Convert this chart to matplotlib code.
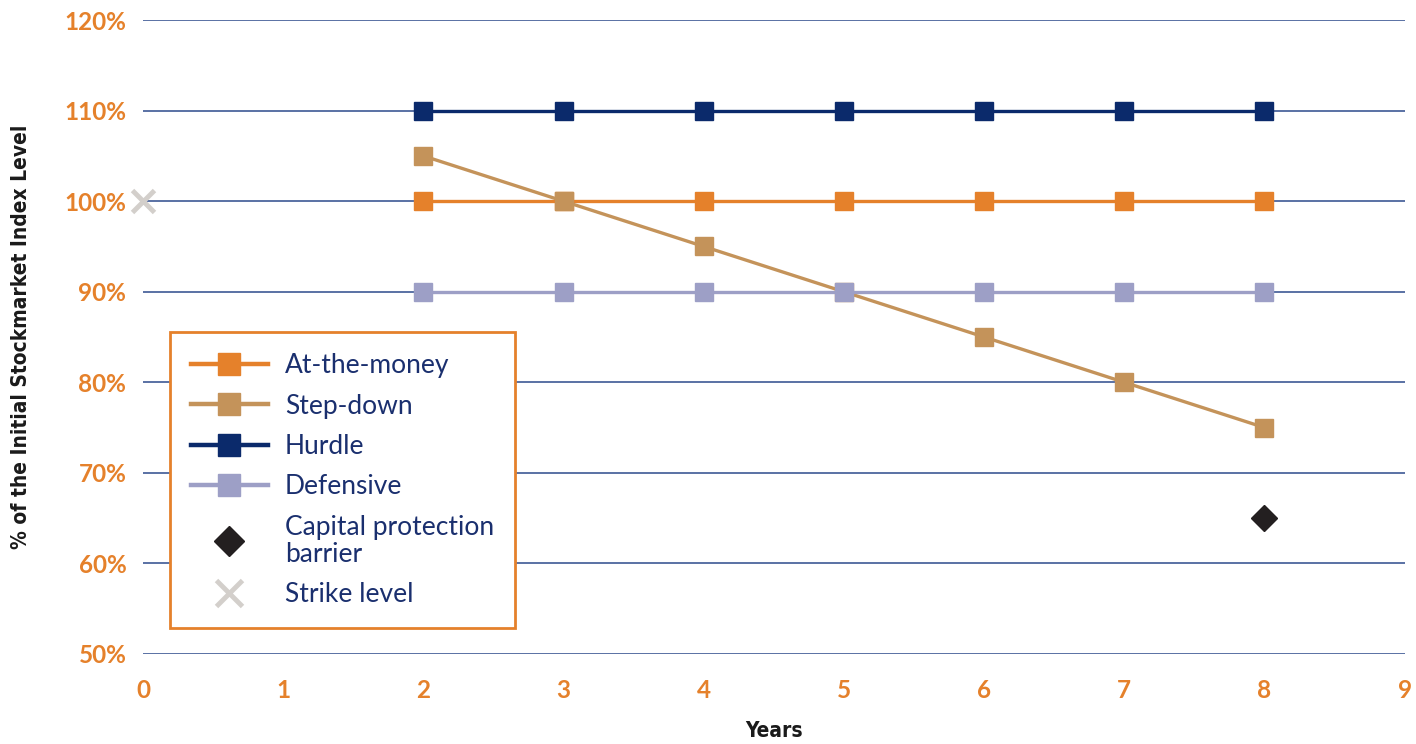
import matplotlib
matplotlib.use("Agg")
import matplotlib.pyplot as plt
from matplotlib.ticker import FuncFormatter

years = [2, 3, 4, 5, 6, 7, 8]
at_the_money = [100, 100, 100, 100, 100, 100, 100]
step_down = [105, 100, 95, 90, 85, 80, 75]
hurdle = [110, 110, 110, 110, 110, 110, 110]
defensive = [90, 90, 90, 90, 90, 90, 90]
barrier_x = [8]
barrier_y = [65]
strike_x = [0]
strike_y = [100]
x_ticks = [0, 1, 2, 3, 4, 5, 6, 7, 8, 9]
y_ticks = [50, 60, 70, 80, 90, 100, 110, 120]

ORANGE = "#e5812b"
TAN = "#c4935a"
NAVY = "#0b2a6b"
LAV = "#9d9fc6"
TXT = "#1a2f6e"

plt.rcParams['font.family'] = ['Lato', 'DejaVu Sans']

fig = plt.figure(figsize=(14.16, 7.44), dpi=100)
ax = fig.add_axes([0.101, 0.121, 0.891, 0.852])

ax.set_xlim(0, 9)
ax.set_ylim(50, 120)
ax.set_yticks(y_ticks)
ax.set_xticks(x_ticks)
ax.yaxis.set_major_formatter(FuncFormatter(lambda v, p: f"{int(v)}%"))
for s in ax.spines.values():
    s.set_visible(False)
ax.grid(axis='y', color="#2c4a8c", linewidth=1.1)
ax.set_axisbelow(True)
ax.tick_params(axis='both', length=0, labelcolor=ORANGE, labelsize=17.5)
ax.tick_params(axis='y', pad=12)
ax.tick_params(axis='x', pad=18)
for lab in ax.get_xticklabels() + ax.get_yticklabels():
    lab.set_fontweight('bold')

ms = 13
lw = 2.4
ax.plot(years, at_the_money, color=ORANGE, lw=lw, marker='s', ms=ms, label='At-the-money', zorder=3)
ax.plot(years, step_down, color=TAN, lw=lw, marker='s', ms=ms, label='Step-down', zorder=3)
ax.plot(years, hurdle, color=NAVY, lw=lw, marker='s', ms=ms, label='Hurdle', zorder=3)
ax.plot(years, defensive, color=LAV, lw=lw, marker='s', ms=ms, label='Defensive', zorder=3)
ax.plot(barrier_x, barrier_y, ls='none', marker='D', ms=13, color="#231f20",
        label='Capital protection\nbarrier', zorder=4)
ax.plot(strike_x, strike_y, ls='none', marker='x', ms=16, mew=3.5, color="#d3cfcb",
        label='Strike level', clip_on=False, zorder=4)

leg = ax.legend(loc='lower left', bbox_to_anchor=(0.0214, 0.041), borderaxespad=0,
                frameon=True, fancybox=False, edgecolor=ORANGE, framealpha=1,
                fontsize=19, handlelength=2.9, handletextpad=0.65, labelspacing=0.58,
                borderpad=0.8, markerscale=1.2)
leg.get_frame().set_linewidth(2)
for line in leg.get_lines():
    line.set_linewidth(3.2)
for t in leg.get_texts():
    t.set_color(TXT)
    t.set_linespacing(1.1)

ax.set_xlabel("Years", fontsize=15, fontweight='bold', color="#1a1a1a", labelpad=14,
              family=['DejaVu Sans'], fontstretch='condensed')
ax.set_ylabel("% of the Initial Stockmarket Index Level", fontsize=15, fontweight='bold',
              color="#1a1a1a", labelpad=24, family=['DejaVu Sans'], fontstretch='condensed')

fig.savefig("out.png", dpi=100)
